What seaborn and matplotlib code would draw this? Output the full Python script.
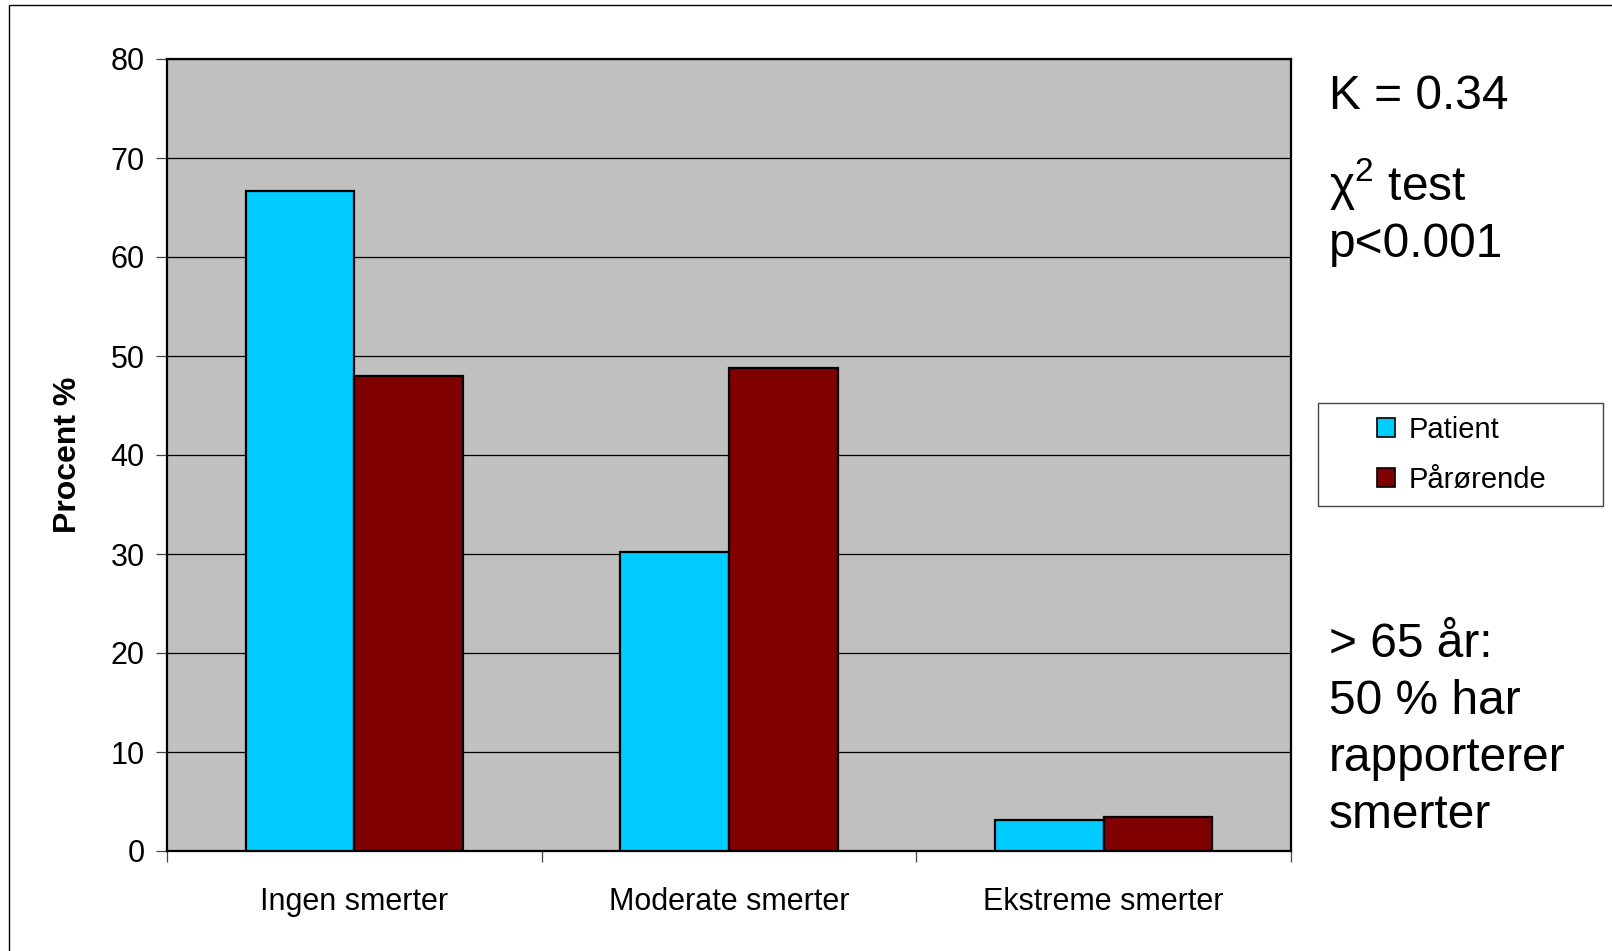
import matplotlib
matplotlib.use("Agg")
import matplotlib.pyplot as plt
import pandas as pd
import seaborn as sns
from matplotlib.patches import Patch, Rectangle

categories = ["Ingen smerter", "Moderate smerter", "Ekstreme smerter"]
patient = [66.7, 30.2, 3.1]
paaroerende = [48.0, 48.8, 3.4]
series = ["Patient", "Pårørende"]
colors = ["#00CCFF", "#800000"]
y_ticks = [0, 10, 20, 30, 40, 50, 60, 70, 80]
note_lines = ["> 65 år:", "50 % har", "rapporterer", "smerter"]

df = pd.DataFrame({
    "kategori": categories * 2,
    "procent": patient + paaroerende,
    "gruppe": [series[0]] * 3 + [series[1]] * 3,
})

sns.set_theme(style="white")
plt.rcParams["font.family"] = ["Liberation Sans", "DejaVu Sans"]
plt.rcParams["text.color"] = "black"
plt.rcParams["axes.labelcolor"] = "black"
plt.rcParams["mathtext.fontset"] = "custom"
plt.rcParams["mathtext.rm"] = "Liberation Sans"

W, H = 1612, 951
fig = plt.figure(figsize=(W / 100, H / 100), dpi=100)
ax = fig.add_axes([167 / W, (H - 851) / H, (1291 - 167) / W, (851 - 59) / H])

sns.barplot(
    data=df, x="kategori", y="procent", hue="gruppe",
    palette=colors, width=0.58, edgecolor="black", linewidth=1.6,
    saturation=1, ax=ax, legend=False, zorder=3,
)

ax.set_facecolor("#C0C0C0")
ax.set_ylim(0, 80)
ax.set_xlim(-0.5, 2.5)
ax.set_yticks(y_ticks)
ax.yaxis.grid(True, color="black", linewidth=0.9, zorder=1)
ax.set_axisbelow(True)
for s in ax.spines.values():
    s.set_visible(True)
    s.set_color("black")
    s.set_linewidth(1.6)

ax.tick_params(axis="y", which="major", direction="out", length=8, width=0.9,
               colors="#444444", labelcolor="black", labelsize=22, pad=8, left=True)
# category boundaries get ticks, labels sit on minor ticks
ax.set_xticks([-0.5, 0.5, 1.5, 2.5])
ax.set_xticklabels([])
ax.set_xticks([0, 1, 2], minor=True)
ax.set_xticklabels(categories, minor=True)
ax.tick_params(axis="x", which="major", direction="out", length=8, width=0.9,
               colors="#444444", bottom=True)
ax.tick_params(axis="x", which="minor", length=0, labelsize=22, labelcolor="black", pad=26)

ax.set_xlabel("")
ax.set_ylabel("Procent %", fontsize=23, fontweight="bold")
ax.yaxis.set_label_coords(-0.075, 0.5)

# legend
handles = [Patch(facecolor=c, edgecolor="black", linewidth=1.2) for c in colors]
fig.legend(
    handles, series, loc="center left", bbox_to_anchor=(1377 / W, 1 - 455 / H),
    fontsize=21, frameon=False,
    handlelength=0.62, handleheight=0.62, handletextpad=0.45,
    borderpad=0, labelspacing=0.75, borderaxespad=0,
)
fig.patches.append(Rectangle((1318 / W, 1 - 506 / H), 285 / W, 103 / H,
                             transform=fig.transFigure, fill=False,
                             edgecolor="#444444", linewidth=1.0))

# annotations to the right
fig.text(1329 / W, 1 - 109 / H, "K = 0.34", fontsize=34.5, va="baseline")
fig.text(1329 / W, 1 - 200 / H, r"χ$^{\mathrm{2}}$ test", fontsize=34.5, va="baseline")
fig.text(1329 / W, 1 - 257 / H, "p<0.001", fontsize=34.5, va="baseline")
for i, line in enumerate(note_lines):
    fig.text(1329 / W, 1 - (657 + 57 * i) / H, line, fontsize=34.5, va="baseline")

# outer frame
fig.patches.append(Rectangle((9 / W, -0.1), 1.2, 1 - 5 / H + 0.1, transform=fig.transFigure,
                             fill=False, edgecolor="black", linewidth=1.0))

plt.savefig("out.png", dpi=100)
plt.close()
